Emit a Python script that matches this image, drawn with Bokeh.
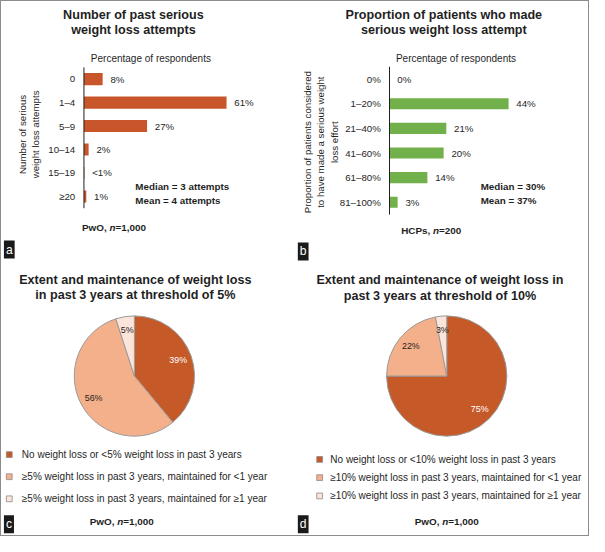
import math
from bokeh.plotting import figure
from bokeh.models import Range1d, Label, ColumnDataSource
from bokeh.layouts import column, row
from bokeh.embed import file_html
from bokeh.resources import INLINE
from bokeh.core.properties import value

# ---------------- data ----------------
a_cats = ["0", "1–4", "5–9", "10–14", "15–19", "≥20"]
a_vals = [8, 61, 27, 2, 0.2, 1]
a_lbls = ["8%", "61%", "27%", "2%", "<1%", "1%"]

b_cats = ["0%", "1–20%", "21–40%", "41–60%", "61–80%", "81–100%"]
b_vals = [0, 44, 21, 20, 14, 3]
b_lbls = ["0%", "44%", "21%", "20%", "14%", "3%"]

c_cats = ["No weight loss or <5% weight loss in past 3 years",
          "≥5% weight loss in past 3 years, maintained for <1 year",
          "≥5% weight loss in past 3 years, maintained for ≥1 year"]
c_vals = [39, 56, 5]
c_lbls = ["39%", "56%", "5%"]

d_cats = ["No weight loss or <10% weight loss in past 3 years",
          "≥10% weight loss in past 3 years, maintained for <1 year",
          "≥10% weight loss in past 3 years, maintained for ≥1 year"]
d_vals = [75, 22, 3]
d_lbls = ["75%", "22%", "3%"]

# ---------------- style ----------------
S = 0.97
FONT = "Liberation Sans"
INK = "#1f1f1f"
BAR_ORANGE = "#C8562A"
BAR_GREEN = "#72B04C"
PIE_COLORS = ["#C55A28", "#F4B08A", "#FBE4DA"]
PIE_TXT = ["white", INK, INK]
EDGE = "#9a9a9a"

WL, WR, HT, HB = 291, 296, 262, 272


def fs(px):
    return f"{px * S:.1f}px"


def txt(p, H, xr, yr, text, size, style="normal", align="left",
        baseline="middle", angle=0.0, color=INK, **kw):
    p.add_layout(Label(x=xr * S, y=H - yr * S,
                       x_units="screen", y_units="screen", text=text,
                       text_font=FONT, text_font_size=fs(size),
                       text_font_style=style, text_align=align,
                       text_baseline=baseline, angle=angle,
                       text_color=color, **kw))


def sample_line(p, H, xr, yr, parts, size=10.2):
    # parts: (text, style, width_in_em)
    x = xr
    for t, st, em in parts:
        txt(p, H, x, yr, t, size, style=st)
        x += em * size


def letter(p, H, xr, yr_bottom, ch):
    txt(p, H, xr, yr_bottom, ch, 12.5, color="white", baseline="bottom",
        background_fill_color="#1a1a1a", padding=2)


def base_fig(W, H, xr, yr):
    p = figure(width=W, height=H, x_range=xr, y_range=yr,
               x_axis_location=None, y_axis_location=None, min_border=0,
               output_backend="svg", toolbar_location=None)
    p.grid.visible = False
    p.outline_line_color = None
    p.background_fill_color = "white"
    p.border_fill_color = "white"
    return p


def bar_panel(W, H, cats, vals, lbls, color, x0_ref, row0_ref, pitch_ref, k_ref, barh_ref):
    n = len(cats)
    idx = list(range(n))
    x0, k = x0_ref * S, k_ref * S
    y0, pitch = row0_ref * S, pitch_ref * S
    xr = Range1d(-x0 / k, (W - x0) / k)
    yr = Range1d(start=(H - y0) / pitch, end=-y0 / pitch)  # flipped: first category on top
    p = base_fig(W, H, xr, yr)
    src = ColumnDataSource(dict(idx=idx, cat=cats, val=vals, lbl=lbls))
    p.hbar(y="idx", left=0, right="val", height=barh_ref / pitch_ref,
           fill_color=color, line_color=None, source=src)
    p.text(x="val", y="idx", text="lbl", x_offset=8 * S, text_baseline="middle",
           text_align="left", text_font=value(FONT), text_font_size=fs(10),
           text_color=INK, source=src)
    # category axis: labels and axis line
    p.text(x=0, y="idx", text="cat", x_offset=-9 * S, text_baseline="middle",
           text_align="right", text_font=value(FONT), text_font_size=fs(10),
           text_color=INK, source=src)
    p.segment(x0=0, y0=-0.5, x1=0, y1=n - 0.5, line_color=INK, line_width=1)
    return p


def pie_panel(W, H, cx, cy, R, vals, lbls, cats, leg_x, leg_tx, leg_y0, leg_pitch):
    cxs, cys = cx * S, cy * S
    p = base_fig(W, H, Range1d(-cxs, W - cxs), Range1d(-(H - cys), cys))
    total = float(sum(vals))
    starts, ends, lx, ly = [], [], [], []
    cum = 0.0
    RL = 48 * S
    for v in vals:
        s0 = math.pi / 2 - 2 * math.pi * cum / total
        cum += v
        e0 = math.pi / 2 - 2 * math.pi * cum / total
        starts.append(s0)
        ends.append(e0)
        m = (s0 + e0) / 2
        lx.append(RL * math.cos(m))
        ly.append(RL * math.sin(m))
    src = ColumnDataSource(dict(start=starts, end=ends, color=PIE_COLORS,
                                lx=lx, ly=ly, lbl=lbls, tc=PIE_TXT))
    p.wedge(x=0, y=0, radius=R * S, start_angle="start", end_angle="end",
            direction="clock", fill_color="color", line_color=EDGE,
            line_width=1, source=src)
    p.text(x="lx", y="ly", text="lbl", text_color="tc", text_align="center",
           text_baseline="middle", text_font=value(FONT),
           text_font_size=fs(9.2), source=src)
    # legend
    n = len(cats)
    ys = [cys - (leg_y0 + i * leg_pitch) * S for i in range(n)]
    lsrc = ColumnDataSource(dict(mx=[leg_x * S - cxs] * n, tx=[leg_tx * S - cxs] * n,
                                 y=ys, color=PIE_COLORS, cat=cats))
    p.scatter(x="mx", y="y", marker="square", size=6 * S, fill_color="color",
              line_color="#8a8a8a", line_width=0.8, source=lsrc)
    p.text(x="tx", y="y", text="cat", text_align="left", text_baseline="middle",
           text_font=value(FONT), text_font_size=fs(10.3), text_color=INK,
           source=lsrc)
    return p


# ---------------- panel a ----------------
pa = bar_panel(WL, HT, a_cats, a_vals, a_lbls, BAR_ORANGE,
               x0_ref=85, row0_ref=80, pitch_ref=24.2, k_ref=2.41, barh_ref=12.5)
txt(pa, HT, 136, 13.5, "Number of past serious", 13, "bold", "center")
txt(pa, HT, 136, 29, "weight loss attempts", 13, "bold", "center")
txt(pa, HT, 154, 58.7, "Percentage of respondents", 10.3, align="center")
txt(pa, HT, 22, 137, "Number of serious", 10, align="center", angle=math.pi / 2)
txt(pa, HT, 35, 137, "weight loss attempts", 10, align="center", angle=math.pi / 2)
txt(pa, HT, 138, 191, "Median = 3 attempts", 10.1, "bold")
txt(pa, HT, 138, 205, "Mean = 4 attempts", 10.1, "bold")
sample_line(pa, HT, 83, 233, [("PwO, ", "bold", 2.779), ("n", "bold italic", 0.611), ("=1,000", "bold", 0)])
letter(pa, HT, 2.5, 265, "a")

# ---------------- panel b ----------------
pb = bar_panel(WR, HT, b_cats, b_vals, b_lbls, BAR_GREEN,
               x0_ref=100, row0_ref=80, pitch_ref=25.4, k_ref=2.79, barh_ref=11.5)
txt(pb, HT, 156, 13.5, "Proportion of patients who made", 13, "bold", "center")
txt(pb, HT, 156, 29, "serious weight loss attempt", 13, "bold", "center")
txt(pb, HT, 168.5, 58.7, "Percentage of respondents", 10.3, align="center")
txt(pb, HT, 15, 145, "Proportion of patients considered", 10, align="center", angle=math.pi / 2)
txt(pb, HT, 29, 145, "to have made a serious weight", 10, align="center", angle=math.pi / 2)
txt(pb, HT, 43, 145, "loss effort", 10, align="center", angle=math.pi / 2)
txt(pb, HT, 194, 191, "Median = 30%", 10.1, "bold")
txt(pb, HT, 194, 205, "Mean = 37%", 10.1, "bold")
sample_line(pb, HT, 112, 236, [("HCPs, ", "bold", 3.223), ("n", "bold italic", 0.611), ("=200", "bold", 0)])
letter(pb, HT, 5.5, 267, "b")

# ---------------- panel c ----------------
pc = pie_panel(WL, HB, 137, 116, 62, c_vals, c_lbls, c_cats,
               leg_x=8, leg_tx=21, leg_y0=197, leg_pitch=22.8)
txt(pc, HB, 138, 17, "Extent and maintenance of weight loss", 13, "bold", "center")
txt(pc, HB, 138, 32, "in past 3 years at threshold of 5%", 13, "bold", "center")
sample_line(pc, HB, 91, 266, [("PwO, ", "bold", 2.779), ("n", "bold italic", 0.611), ("=1,000", "bold", 0)])
letter(pc, HB, 2.5, 278, "c")

# ---------------- panel d ----------------
pd_ = pie_panel(WR, HB, 159, 116, 62, d_vals, d_lbls, d_cats,
                leg_x=28, leg_tx=39, leg_y0=202, leg_pitch=18.8)
txt(pd_, HB, 152, 17, "Extent and maintenance of weight loss in", 13, "bold", "center")
txt(pd_, HB, 152, 33, "past 3 years at threshold of 10%", 13, "bold", "center")
sample_line(pd_, HB, 126, 266, [("PwO, ", "bold", 2.779), ("n", "bold italic", 0.611), ("=1,000", "bold", 0)])
letter(pd_, HB, 5.5, 278, "d")

layout = column(row(pa, pb), row(pc, pd_),
                styles={"border": "1px solid #8c8c8c"})

open("out.html", "w").write(file_html(layout, INLINE))
